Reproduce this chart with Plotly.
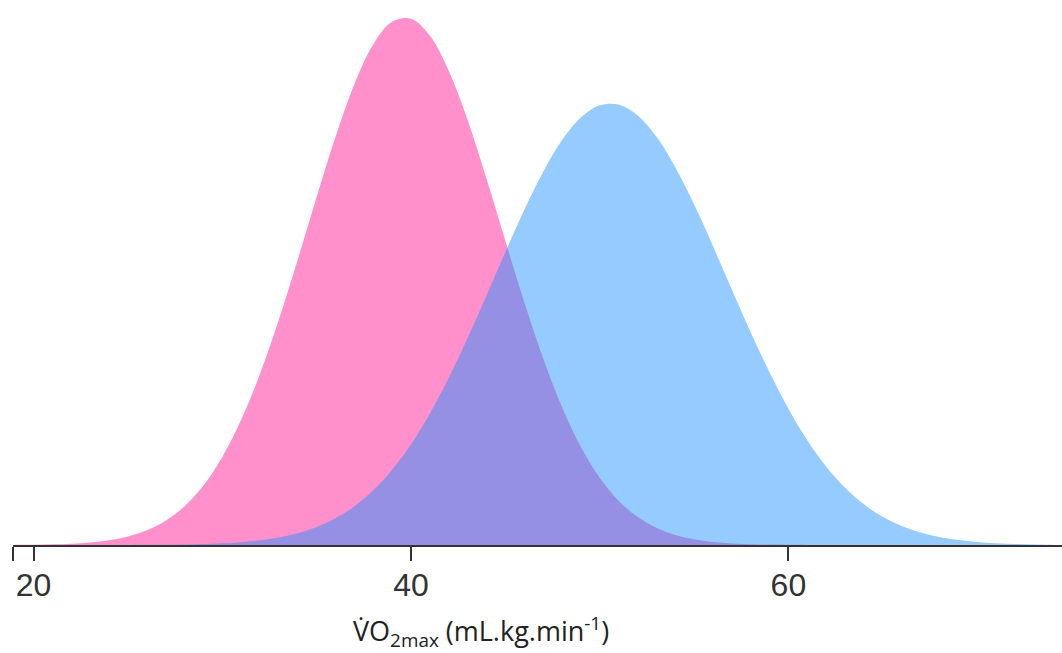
import plotly.graph_objects as go

# x values (VO2max, mL/kg/min)
x_vals = list(range(19, 75))

# Heights (relative frequency, arbitrary units)
female = [0.002, 0.005, 0.010, 0.020, 0.038, 0.070, 0.126, 0.217, 0.360, 0.574,
          0.881, 1.302, 1.851, 2.533, 3.334, 4.223, 5.147, 6.038, 6.815, 7.402,
          7.737, 7.782, 7.532, 7.015, 6.287, 5.421, 4.499, 3.593, 2.761, 2.042,
          1.452, 0.995, 0.656, 0.416, 0.254, 0.149, 0.084, 0.046, 0.024, 0.012,
          0.006, 0.003, 0.001, 0.0005, 0.0002, 0.0001, 0, 0, 0, 0,
          0, 0, 0, 0, 0, 0]
male = [0, 0, 0, 0.0001, 0.0003, 0.0006, 0.0011, 0.0022, 0.0042, 0.0078,
        0.0139, 0.0243, 0.0413, 0.0684, 0.110, 0.173, 0.265, 0.395, 0.572, 0.809,
        1.112, 1.491, 1.946, 2.473, 3.062, 3.691, 4.333, 4.954, 5.517, 5.984,
        6.321, 6.502, 6.514, 6.356, 6.040, 5.590, 5.038, 4.422, 3.780, 3.148,
        2.553, 2.016, 1.550, 1.161, 0.847, 0.602, 0.416, 0.281, 0.184, 0.118,
        0.073, 0.044, 0.026, 0.015, 0.008, 0.005]

tick_vals = [18.91, 20, 40, 60]
tick_text = ["", "20", "40", "60"]

fig = go.Figure()
fig.add_trace(go.Scatter(x=x_vals, y=female, mode="lines", fill="tozeroy",
                         line=dict(width=0, shape="spline", smoothing=1),
                         fillcolor="rgba(255,20,147,0.47)", hoverinfo="skip"))
fig.add_trace(go.Scatter(x=x_vals, y=male, mode="lines", fill="tozeroy",
                         line=dict(width=0, shape="spline", smoothing=1),
                         fillcolor="rgba(30,144,255,0.47)", hoverinfo="skip"))

fig.update_layout(
    width=1062, height=653,
    margin=dict(l=13, r=0, t=0, b=108),
    paper_bgcolor="white", plot_bgcolor="white",
    showlegend=False,
    xaxis=dict(range=[18.908, 74.5], tickvals=tick_vals, ticktext=tick_text,
               showgrid=False, zeroline=False, showline=True, linecolor="#333",
               linewidth=2, ticks="outside", ticklen=14, tickwidth=2, tickcolor="#333",
               ticklabelstandoff=-3,
               tickfont=dict(family="Liberation Sans", size=32, color="#333")),
    yaxis=dict(range=[0, 8.06], visible=False),
    annotations=[dict(
        text="V\u0307O<sub>2max</sub> (mL.kg.min<sup>-1</sup>)",
        xref="paper", yref="paper", x=0.446, y=0, xanchor="center", yanchor="middle",
        yshift=-86, showarrow=False,
        font=dict(family="Open Sans", size=27, color="#222"))],
)

fig.write_html("out.html", config={"displayModeBar": False},
               post_script="document.body.style.margin='0';document.body.style.overflow='hidden';")
